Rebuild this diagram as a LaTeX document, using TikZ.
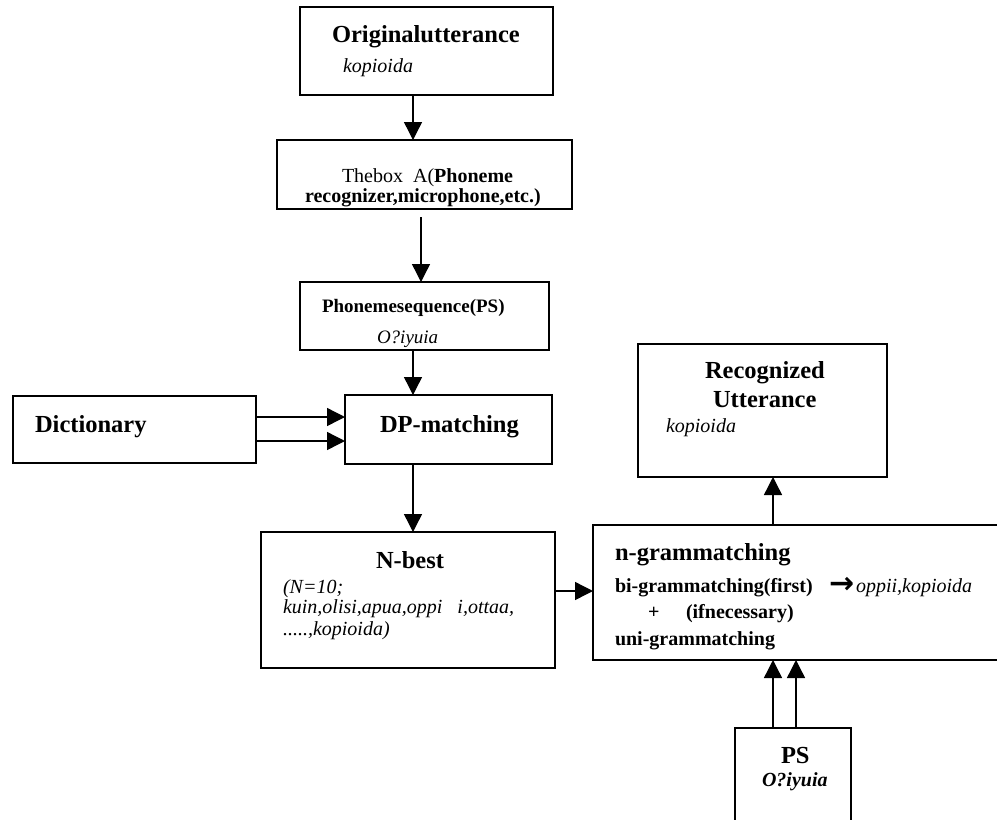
\documentclass[tikz,border=0pt]{standalone}
\usepackage{fontspec}
\setmainfont{Liberation Serif}
\newfontfamily\arrowfont{DejaVu Sans}
\usetikzlibrary{arrows.meta}
\begin{document}
\begin{tikzpicture}[x=1pt,y=-1pt,
 box/.style={draw, line width=1.6pt, rectangle, inner sep=0pt, outer sep=0pt, anchor=north west},
 txt/.style={anchor=base west, inner sep=0pt, outer sep=0pt},
 big/.style={font=\fontsize{24.5}{28}\selectfont\bfseries},
 med/.style={font=\fontsize{20}{24}\selectfont},
 medb/.style={font=\fontsize{20}{24}\selectfont\bfseries},
 medi/.style={font=\fontsize{20}{24}\selectfont\itshape},
 arr/.style={line width=1.4pt, -{Triangle[length=18pt,width=18pt]}},
]
\clip (0,0) rectangle (997,820);
\fill[white] (0,0) rectangle (997,820);

% boxes
\node[box, minimum width=253pt, minimum height=88pt] (orig) at (300,7) {};
\node[box, minimum width=295pt, minimum height=69pt] (boxA) at (277,140) {};
\node[box, minimum width=249pt, minimum height=68pt] (ps) at (300,282) {};
\node[box, minimum width=243pt, minimum height=67pt] (dict) at (13,396) {};
\node[box, minimum width=207pt, minimum height=69pt] (dp) at (345,395) {};
\node[box, minimum width=294pt, minimum height=136pt] (nbest) at (261,532) {};
\node[box, minimum width=249pt, minimum height=133pt] (rec) at (638,344) {};
\node[box, minimum width=430pt, minimum height=135pt] (ngram) at (593,525) {};
\node[box, minimum width=116pt, minimum height=120pt] (psb) at (735,728) {};

% texts
\node[txt, big] (t1) at (332,42) {Originalutterance};
\node[txt, medi] (t2) at (343,72) {kopioida};
\node[txt, med] (t3) at (342,182) {Thebox\ \ A(\textbf{Phoneme}};
\node[txt, medb] (t4) at (305,202) {recognizer,microphone,etc.)};
\node[txt, font=\fontsize{19}{22}\selectfont\bfseries] (t5) at (322,312) {Phonemesequence(PS)};
\node[txt, font=\fontsize{19}{22}\selectfont\itshape] (t6) at (377,343) {O?iyuia};
\node[txt, big] (t7) at (35,432) {Dictionary};
\node[txt, big] (t8) at (380,432) {DP-matching};
\node[txt, big] (t9) at (376,568) {N-best};
\node[txt, medi] (t10) at (283,593) {(N=10;};
\node[txt, medi] (t11) at (283,613) {kuin,olisi,apua,oppi\hspace*{15pt}i,ottaa,};
\node[txt, medi] (t12) at (283,635) {.....,kopioida)};
\node[txt, big] (t13) at (705,378) {Recognized};
\node[txt, big] (t14) at (713,407) {Utterance};
\node[txt, medi] (t15) at (666,432) {kopioida};
\node[txt, big] (t16) at (615,560) {n-grammatching};
\node[txt, medb] (t17) at (615,592) {bi-grammatching(first)};
\node[txt, font=\fontsize{30}{32}\arrowfont\bfseries] (t18) at (829,593) {→};
\node[txt, medi] (t19) at (856,592) {oppii,kopioida};
\node[txt, medb] (t20) at (648,618) {+};
\node[txt, medb] (t21) at (686,618) {(ifnecessary)};
\node[txt, medb] (t22) at (615,645) {uni-grammatching};
\node[txt, big] (t23) at (781,763) {PS};
\node[txt, font=\fontsize{20}{24}\selectfont\bfseries\itshape] (t24) at (762,786) {O?iyuia};

% guide coordinates
\coordinate (xa) at (413,0);
\coordinate (xb) at (421,0);
\coordinate (xc) at (773,0);
\coordinate (xd) at (796,0);
\coordinate (ya) at (0,417);
\coordinate (yb) at (0,441);
\coordinate (yc) at (0,591);
\coordinate (sA) at (421,217);

% connectors
\draw[arr] (orig.south -| xa) -- (boxA.north -| xa);
\draw[arr] (sA) -- (ps.north -| xb);
\draw[arr] (ps.south -| xa) -- (dp.north -| xa);
\draw[arr] (dict.east |- ya) -- (dp.west |- ya);
\draw[arr] (dict.east |- yb) -- (dp.west |- yb);
\draw[arr] (dp.south -| xa) -- (nbest.north -| xa);
\draw[arr] (nbest.east |- yc) -- (ngram.west |- yc);
\draw[arr] (ngram.north -| xc) -- (rec.south -| xc);
\draw[arr] (psb.north -| xc) -- (ngram.south -| xc);
\draw[arr] (psb.north -| xd) -- (ngram.south -| xd);
\end{tikzpicture}
\end{document}
